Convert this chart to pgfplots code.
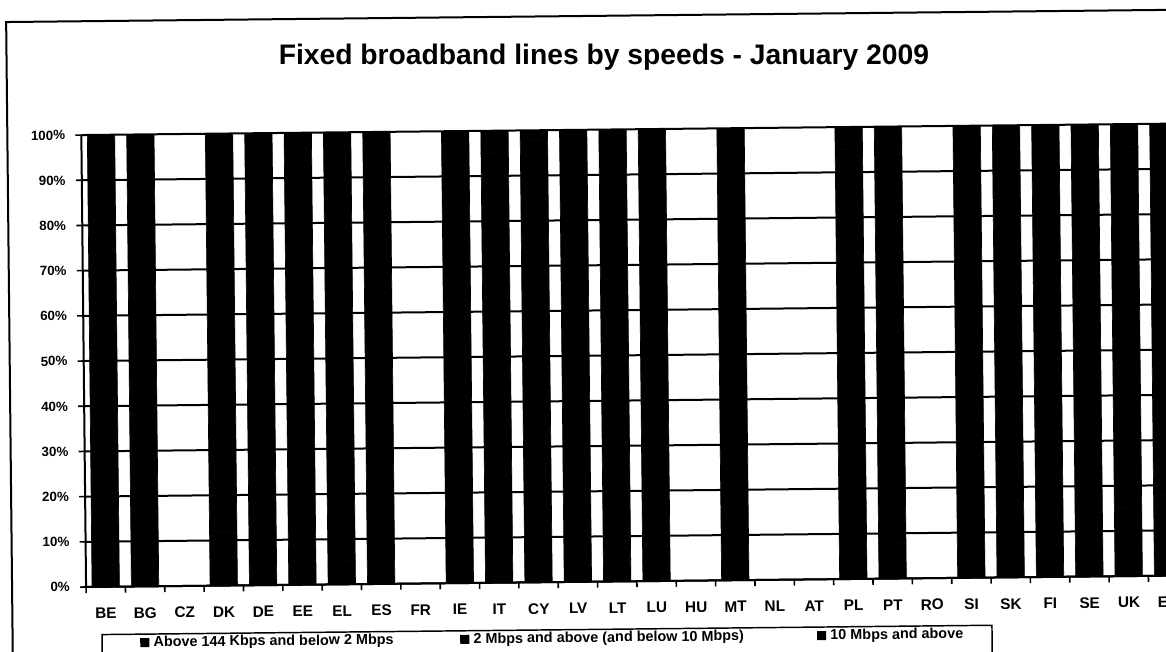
\documentclass[border=0pt]{standalone}
\usepackage{pgfplots}
\pgfplotsset{compat=1.18}
\usepackage{fontspec}
\setmainfont{Liberation Sans}
\pgfplotstableread{
idx  low  mid  high
0    2    38   60
1    10   60   30
2    0    0    0
3    12   58   30
4    8    72   20
5    15   45   40
6    5    90   5
7    10   80   10
8    0    0    0
9    25   60   15
10   15   80   5
11   60   38   2
12   20   40   40
13   5    35   60
14   20   65   15
15   0    0    0
16   10   80   10
17   0    0    0
18   0    0    0
19   40   55   5
20   8    42   50
21   0    0    0
22   15   55   30
23   40   45   15
24   20   45   35
25   20   40   40
26   15   80   5
27   18   60   22
}\speeds
\begin{document}
\begin{tikzpicture}
\path[use as bounding box] (0pt,0pt) rectangle (874.5pt,488.25pt);
\begin{scope}[rotate around={0.6:(437.25pt,244.1pt)}]
% outer chart frame
\draw[line width=1.5pt] (7pt,-20pt) -- (7pt,476.25pt) -- (900pt,476.25pt);
% legend frame
\draw[line width=1.1pt] (74.1pt,-20pt) -- (74.1pt,16.1pt) -- (741.6pt,16.1pt) -- (741.6pt,-20pt);
% title
\node[anchor=base, font=\fontsize{21.2}{25}\selectfont\bfseries, inner sep=0pt] at (455pt,439.35pt)
  {Fixed broadband lines by speeds - January 2009};
\begin{axis}[
  at={(62.5pt,51.9pt)}, anchor=south west,
  scale only axis, width=826.35pt, height=339pt,
  ybar stacked, bar width=20.5pt,
  xmin=-0.5, xmax=27.5, ymin=0, ymax=100,
  axis x line*=bottom, axis y line*=left,
  axis line style={line width=1.5pt, -},
  xtick={0,...,27},
  xticklabels={BE,BG,CZ,DK,DE,EE,EL,ES,FR,IE,IT,CY,LV,LT,LU,HU,MT,NL,AT,PL,PT,RO,SI,SK,FI,SE,UK,EU},
  minor xtick={-0.5,0.5,...,27.5},
  ytick={0,10,...,100},
  yticklabel={\pgfmathprintnumber{\tick}\%},
  /pgf/number format/assume math mode=true,
  tick align=outside,
  major tick length=4.5pt, minor tick length=4.5pt,
  x tick style={draw=none},
  minor x tick style={draw=black, line width=1.2pt},
  y tick style={line width=1.2pt, black},
  ymajorgrids, grid style={line width=1.5pt, black},
  xticklabel style={font=\fontsize{11.5}{13}\selectfont\bfseries, anchor=center, yshift=-15.4pt},
  yticklabel style={font=\fontsize{10}{12}\selectfont\bfseries, anchor=east, inner sep=0pt, xshift=-7.5pt},
  legend columns=3,
  legend style={at={(axis description cs:0.0484,-0.1245)}, anchor=west, draw=none, fill=none,
    inner sep=0pt, column sep=0pt, nodes={inner sep=0pt},
    font=\fontsize{10.8}{13}\selectfont\bfseries},
  every axis plot post/.append style={legend image code/.code={
      \fill[black, draw=none] (0pt,-3.4pt) rectangle (6.8pt,3.4pt);
      \path[draw=none, fill=none] (0pt,0pt) -- (9pt,0pt);}},
]
\addplot[fill=black, draw=black, line width=0.5pt] table[x=idx, y=low] {\speeds};
\addlegendentry{\makebox[231pt][l]{\hspace{1pt}Above 144 Kbps and below 2 Mbps}}
\addplot[fill=black, draw=black, line width=0.5pt] table[x=idx, y=mid] {\speeds};
\addlegendentry{\makebox[258.7pt][l]{\hspace{1pt}2 Mbps and above (and below 10 Mbps)}}
\addplot[fill=black, draw=black, line width=0.5pt] table[x=idx, y=high] {\speeds};
\addlegendentry{\hspace{1pt}10 Mbps and above}
\end{axis}
\end{scope}
\end{tikzpicture}
\end{document}
